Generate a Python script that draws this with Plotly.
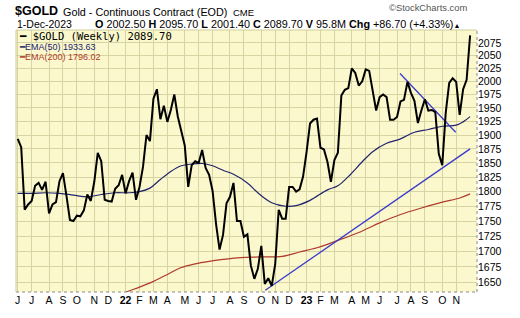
import pandas as pd
import plotly.graph_objects as go

# ---------------- data (weekly closes) ----------------
START = "2021-06-04"
GOLD = [
    1893, 1878, 1769, 1778, 1784, 1810, 1815, 1803, 1817, 1763, 1778, 1782, 1818,
    1832, 1793, 1752, 1750, 1759, 1758, 1768, 1795, 1784, 1817, 1868, 1853, 1786,
    1784, 1783, 1805, 1811, 1829,
    1797, 1818, 1833, 1786, 1808, 1843, 1900, 1889, 1967, 1985, 1929, 1954, 1924,
    1946, 1975, 1934, 1908, 1881, 1808, 1846, 1853, 1850, 1873, 1841, 1829, 1801,
    1745, 1703, 1727, 1780, 1791, 1815, 1750, 1750, 1724, 1728, 1677, 1656, 1672,
    1709, 1648, 1657, 1645, 1680, 1769, 1754, 1754, 1808, 1808, 1800, 1804, 1826,
    1869, 1921, 1928, 1930, 1877, 1874, 1852, 1817, 1855, 1868, 1973, 1984, 1987,
    2025, 2016, 1992, 2000, 2023, 2020, 1980, 1945, 1970, 1975, 1970, 1928, 1928,
    1933, 1962, 1965, 1999, 1978, 1963, 1922, 1945, 1966, 1945, 1946, 1942, 1866,
    1846, 1941, 1997, 2006, 1999, 1937, 1985, 2003, 2089.70,
]
EMA50_WEEK = [0, 4, 8, 12, 16, 20, 24, 28, 32, 35, 38, 41, 44, 47, 50, 53, 56, 59, 62,
              66, 69, 73, 77, 80, 84, 89, 92, 95, 99, 102, 106, 110, 114, 118, 122,
              126, 128, 130]
EMA50_VAL = [1797, 1797, 1798, 1797, 1794, 1791, 1795, 1798, 1798, 1800, 1806, 1821,
             1835, 1845, 1848, 1849, 1845, 1837, 1830, 1815, 1798, 1781, 1775, 1776,
             1785, 1803, 1810, 1826, 1852, 1870, 1885, 1893, 1905, 1910, 1916, 1918,
             1924, 1933.63]
EMA200_WEEK = [24, 31, 35, 39, 43, 47, 51, 55, 59, 64, 70, 76, 81, 86, 92, 98, 104,
               110, 116, 122, 127, 130]
EMA200_VAL = [1618, 1635, 1643, 1652, 1663, 1674, 1680, 1684, 1687, 1690, 1691, 1692,
              1699, 1706, 1718, 1731, 1747, 1761, 1772, 1782, 1789, 1796.02]
UPTREND_X = ["2022-10-15", "2023-12-01"]
UPTREND_Y = [1638, 1875]
DOWNTREND_X = ["2023-07-13", "2023-11-02"]
DOWNTREND_Y = [2015, 1905]
Y_TICKS = [1650, 1675, 1700, 1725, 1750, 1775, 1800, 1825, 1850, 1875, 1900, 1925,
           1950, 1975, 2000, 2025, 2050, 2075]
MONTH_INITIALS = ["J", "F", "M", "A", "M", "J", "J", "A", "S", "O", "N", "D"]

# ---------------- layout constants ----------------
W, H = 520, 318
L, R, T, B = 16, 477, 30, 302
BG = "#FAF8CC"
GRID = "#D6D4A2"

start = pd.Timestamp(START)
dates = [start + pd.Timedelta(days=7 * i) for i in range(len(GOLD))]
ema50_x = [start + pd.Timedelta(days=7 * i) for i in EMA50_WEEK]
ema200_x = [start + pd.Timedelta(days=7 * i) for i in EMA200_WEEK]

tickvals, ticktext = [], []
prev = None
for d in dates[:-1]:
    if prev is None or d.month != prev.month:
        tickvals.append(d)
        ticktext.append(f"<b>{d.strftime('%y')}</b>" if d.month == 1 else MONTH_INITIALS[d.month - 1])
    prev = d


def px(x, y):
    return (x - L) / (R - L), (B - y) / (B - T)


fig = go.Figure()
fig.add_trace(go.Scatter(x=ema200_x, y=EMA200_VAL, mode="lines",
                         line=dict(color="#B03A2E", width=1.2, shape="spline"), hoverinfo="skip"))
fig.add_trace(go.Scatter(x=ema50_x, y=EMA50_VAL, mode="lines",
                         line=dict(color="#24246E", width=1.2, shape="spline"), hoverinfo="skip"))
fig.add_trace(go.Scatter(x=UPTREND_X, y=UPTREND_Y, mode="lines",
                         line=dict(color="#3A3ACC", width=1.3), hoverinfo="skip"))
fig.add_trace(go.Scatter(x=DOWNTREND_X, y=DOWNTREND_Y, mode="lines",
                         line=dict(color="#3A3ACC", width=1.3), hoverinfo="skip"))
fig.add_trace(go.Scatter(x=dates, y=GOLD, mode="lines",
                         line=dict(color="#000000", width=2), hoverinfo="skip"))

x0 = start - pd.Timedelta(hours=83)
x1 = dates[-1] + pd.Timedelta(hours=333)

fig.update_layout(
    width=W, height=H,
    margin=dict(l=L, r=W - R, t=T, b=H - B),
    paper_bgcolor="white", plot_bgcolor=BG,
    showlegend=False,
    font=dict(family="Liberation Sans, Arial, sans-serif", size=10, color="#000"),
    xaxis=dict(type="date", range=[x0, x1], tickmode="array", tickvals=tickvals,
               ticktext=ticktext, showgrid=True, gridcolor=GRID, gridwidth=1,
               ticks="", tickfont=dict(size=10.5, color="#000"), zeroline=False,
               showline=False, fixedrange=True),
    yaxis=dict(type="log", side="right", range=[3.21360, 3.32234], tickmode="array",
               tickvals=Y_TICKS, ticktext=[str(v) for v in Y_TICKS], showgrid=True,
               gridcolor=GRID, gridwidth=1, ticks="", tickfont=dict(size=10.5, color="#000"),
               zeroline=False, showline=False, fixedrange=True),
)

# plot borders
fig.add_shape(type="line", xref="paper", yref="paper", x0=0, x1=1, y0=0, y1=0,
              line=dict(color="#8C8C8C", width=1, dash="dot"))
fig.add_shape(type="line", xref="paper", yref="paper", x0=1, x1=1, y0=0, y1=1,
              line=dict(color="#8C8C8C", width=1, dash="dot"))
fig.add_shape(type="line", xref="paper", yref="paper", x0=0, x1=1, y0=1, y1=1,
              line=dict(color="#CFCD98", width=1))
fig.add_shape(type="line", xref="paper", yref="paper", x0=0, x1=0, y0=0, y1=1,
              line=dict(color="#CFCD98", width=1))

# legend background box
lx0, ly0 = px(17, 31)
lx1, ly1 = px(176, 61)
fig.add_shape(type="rect", xref="paper", yref="paper", x0=lx0, x1=lx1, y0=ly1, y1=ly0,
              fillcolor=BG, line=dict(width=0), layer="below")


def ann(text, x, y, size, family="Liberation Sans, Arial, sans-serif", color="#000",
        anchor="left", yanchor="middle"):
    ax, ay = px(x, y)
    fig.add_annotation(text=text, x=ax, y=ay, xref="paper", yref="paper", xanchor=anchor,
                       yanchor=yanchor, showarrow=False, align="left",
                       font=dict(size=size, family=family, color=color), borderpad=0)


# legend (one multi-line text block)
legend_text = (
    "<span style='font-family:DejaVu Sans Mono, monospace;font-size:10.5px'>"
    "<b>━</b> $GOLD (Weekly) 2089.70</span><br>"
    "<span style='color:#24246E;font-size:9px'>━EMA(50) 1933.63</span><br>"
    "<span style='color:#B03A2E;font-size:9px'>━EMA(200) 1796.02</span>"
)
ann(legend_text, 17.5, 46.5, 7.8)

# header
ann("<b>$GOLD</b>", 14, 10, 12.5)
ann("Gold - Continuous Contract (EOD)", 62, 11.5, 10.8)
ann("CME", 232, 12, 9.5)
ann("1-Dec-2023", 16, 23.8, 10.5)
ann("<b>O</b> 2002.50 <b>H</b> 2095.70 <b>L</b> 2001.40 <b>C</b> 2089.70 <b>V</b> 95.8M "
    "<b>Chg</b> +86.70 (+4.33%)<span style='font-size:7px'>▲</span>", 94, 23.8, 10.8)
ann("©StockCharts.com", 388, 6.5, 9.4, color="#555555")

fig.write_html("out.html")
